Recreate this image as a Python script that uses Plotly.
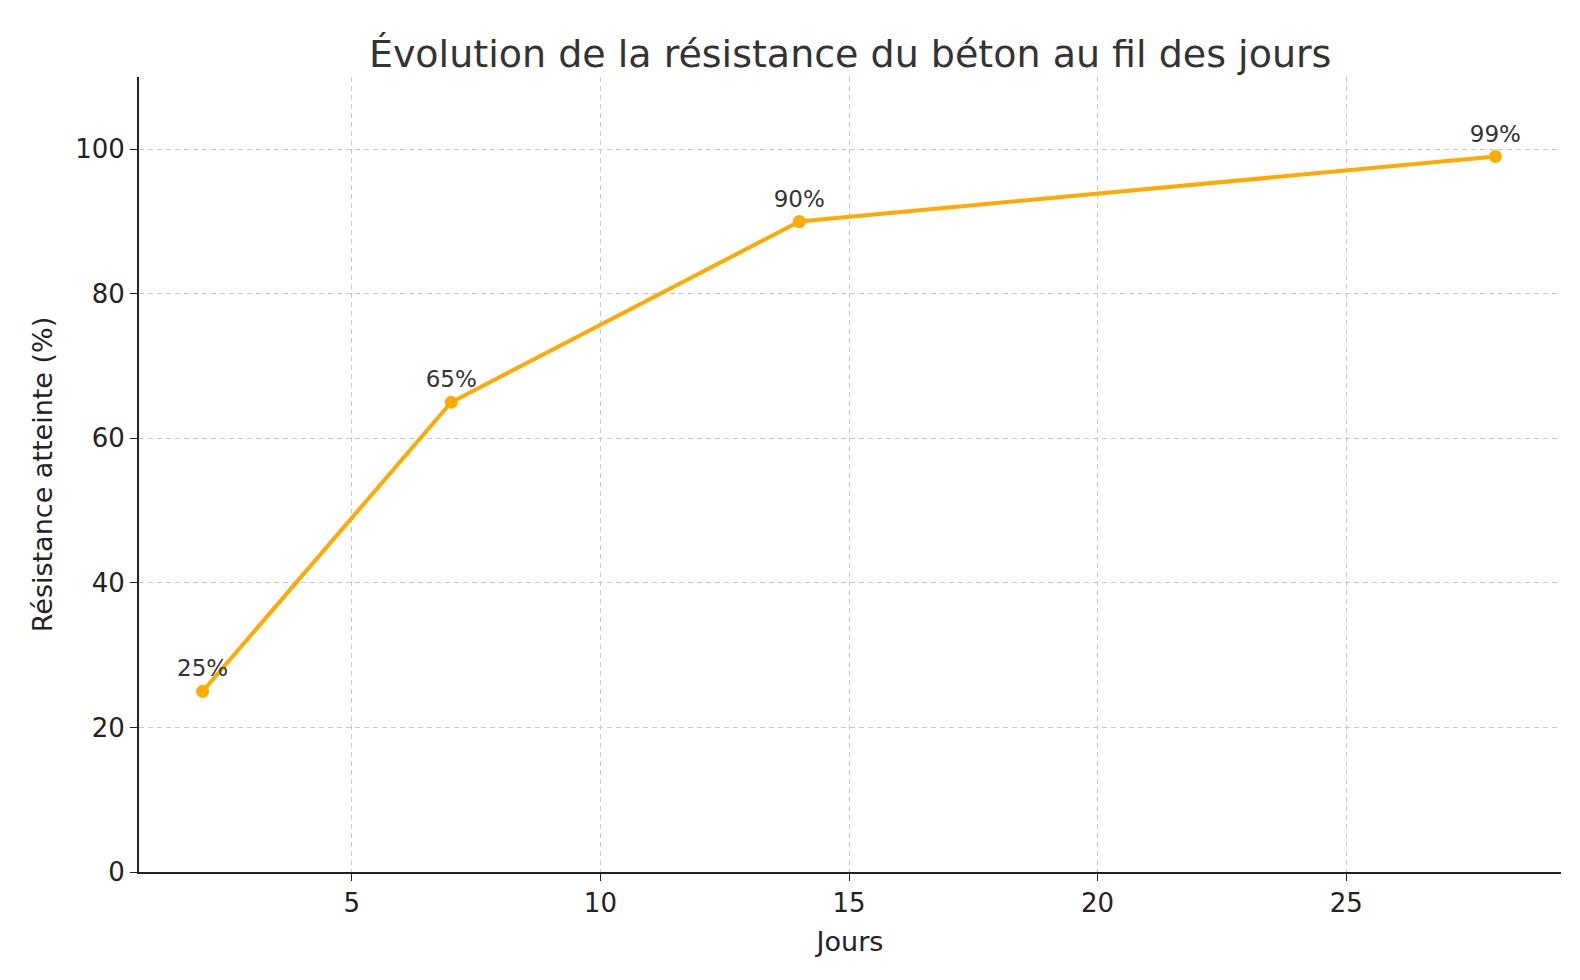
import plotly.graph_objects as go

jours = [2, 7, 14, 28]
resistance = [25, 65, 90, 99]
labels = ["25%", "65%", "90%", "99%"]

fig = go.Figure()
fig.add_trace(go.Scatter(
    x=jours, y=resistance, mode="lines+markers+text",
    line=dict(color="#FFAA00", width=4),
    marker=dict(color="#FFAA00", size=13),
    text=labels, textposition="top center",
    textfont=dict(size=23, color="#333333"),
    cliponaxis=False,
))

axis_common = dict(
    showgrid=True, gridcolor="#c8c8c8", griddash="5px,4px", gridwidth=1,
    showline=True, linecolor="#222222", linewidth=2,
    ticks="outside", ticklen=7, tickcolor="#222222",
    tickfont=dict(size=26, color="#222222"), zeroline=False,
)

fig.update_layout(
    width=1580, height=980,
    paper_bgcolor="white", plot_bgcolor="white",
    font=dict(family="DejaVu Sans"),
    title=dict(text="Évolution de la résistance du béton au fil des jours",
               x=0.533, xanchor="center", y=0.953, yanchor="middle",
               font=dict(size=38, color="#333333")),
    margin=dict(l=131, r=27, t=69, b=116),
    showlegend=False,
    xaxis=dict(range=[0.72, 29.32], tickvals=[5, 10, 15, 20, 25],
               title=dict(text="Jours", font=dict(size=27, color="#222222")), **axis_common),
    yaxis=dict(range=[0, 110], tickvals=[0, 20, 40, 60, 80, 100],
               title=dict(text="Résistance atteinte (%)", font=dict(size=27, color="#222222")), **axis_common),
)

fig.write_html("out.html")
